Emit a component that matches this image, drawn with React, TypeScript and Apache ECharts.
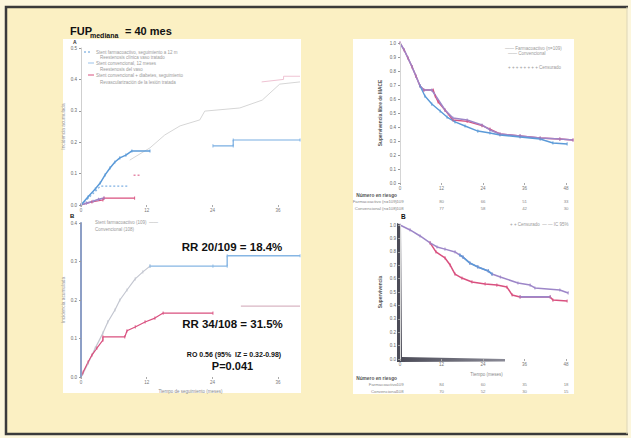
import React, { useEffect, useRef } from "react";
import * as echarts from "echarts";

type Pt = [number, number];

const FONT = "Liberation Sans, Arial, Helvetica, sans-serif";

// Axis ticks (months) and y ranges
const monthTicks = [0, 12, 24, 36, 48];
const incidenceMaxA = 0.5;
const incidenceMaxB = 0.4;

// ---- Panel A (upper left): cumulative incidence ----
const aBlueEarly: Pt[] = [[0, 0], [1.3, 0.026], [2.6, 0.051], [3.5, 0.07], [4.4, 0.096], [5.3, 0.118], [6.2, 0.137], [7.1, 0.15], [8.2, 0.159], [9.3, 0.172], [12.6, 0.172]];
const aBlueLate: Pt[] = [[24.1, 0.188], [27.8, 0.188], [27.8, 0.207], [40, 0.207]];
const aBlueDashed: Pt[] = [[0, 0], [2.5, 0.041], [3.5, 0.06], [8.6, 0.06]];
const aPink: Pt[] = [[0, 0], [2, 0.01], [4, 0.016], [4.2, 0.022], [9.8, 0.022]];
const aPinkUpper: Pt[] = [[9.6, 0.095], [10.8, 0.095]];
const aPurple: Pt[] = [[0, 0], [1, 0.006], [2.2, 0.012], [3.2, 0.018], [4.2, 0.022]];
const aGray: Pt[] = [[8.9, 0.143], [12.6, 0.182], [15.3, 0.223], [18.1, 0.252], [21.7, 0.271], [22.6, 0.299], [29, 0.309], [33.1, 0.334], [36.3, 0.385], [40, 0.392]];
const aPinkFaint: Pt[] = [[33, 0.392], [37, 0.4], [37, 0.41], [40, 0.41]];

// ---- Panel B (lower left): cumulative incidence by group ----
const bUpperGray: Pt[] = [[0, 0], [0.4, 0.01], [1.3, 0.036], [2.6, 0.075], [4.0, 0.114], [4.9, 0.143], [6.2, 0.174], [7.1, 0.2], [8.4, 0.226], [9.9, 0.255], [11.3, 0.273], [12.6, 0.288]];
const bUpperBlue: Pt[] = [[12.6, 0.288], [24.1, 0.288], [26.7, 0.288], [26.7, 0.315], [40, 0.315]];
const bPink: Pt[] = [[0, 0], [0.4, 0.013], [1.3, 0.039], [2, 0.057], [2.9, 0.075], [4, 0.096], [4, 0.104], [8, 0.104], [8.4, 0.12], [9.9, 0.13], [11.7, 0.143], [13.5, 0.153], [15, 0.166], [24.1, 0.166]];
const bPinkLate: Pt[] = [[29.2, 0.184], [40, 0.184]];

// ---- Panel C (upper right): event-free survival ----
const cPink: Pt[] = [[0, 1], [1.2, 0.95], [2.3, 0.893], [3.5, 0.829], [4.6, 0.764], [5.8, 0.693], [6.9, 0.664], [9.6, 0.664], [10.2, 0.62], [11.0, 0.58], [13.0, 0.521], [15.3, 0.45], [19.4, 0.44], [23.7, 0.41], [26.0, 0.385], [28.9, 0.35], [34.7, 0.336], [40.5, 0.321], [46.2, 0.314], [50, 0.307]];
const cPurple: Pt[] = [[0, 1], [1.2, 0.95], [2.3, 0.893], [3.5, 0.829], [4.6, 0.764], [5.8, 0.693], [6.9, 0.664], [9.2, 0.664], [13.0, 0.521], [15.3, 0.464], [19.4, 0.45], [23.7, 0.414], [26.0, 0.379], [28.9, 0.35], [34.7, 0.336], [40.5, 0.321], [46.2, 0.314], [50, 0.307]];
const cBlue: Pt[] = [[5.8, 0.693], [7.2, 0.621], [9.2, 0.564], [11.6, 0.514], [13.6, 0.471], [15.9, 0.436], [18.8, 0.407], [22.5, 0.371], [26.0, 0.357], [28.9, 0.343], [34.7, 0.329], [40.5, 0.314], [44.2, 0.286], [48.3, 0.279]];

// ---- Panel D (lower right): survival ----
const dUpper: Pt[] = [[0, 1], [2.9, 0.963], [5.8, 0.918], [8.7, 0.866], [10.7, 0.836], [13, 0.82], [15.9, 0.799], [17.3, 0.776], [18.2, 0.761], [20.2, 0.716], [22.5, 0.687], [25.5, 0.657], [26.6, 0.634], [29, 0.612], [34.1, 0.567], [37.6, 0.552], [39, 0.53], [46.2, 0.515], [48.6, 0.493]];
const dUpperBlue: Pt[] = [[17.3, 0.776], [18.2, 0.761], [20.2, 0.716], [22.5, 0.687], [25.5, 0.657], [26.6, 0.634]];
const dLower: Pt[] = [[8.7, 0.866], [10.4, 0.799], [13, 0.754], [14.5, 0.701], [15.9, 0.634], [17.9, 0.604], [20.8, 0.575], [24.6, 0.56], [28, 0.552], [30.9, 0.537], [32.4, 0.478], [34.7, 0.463], [43.4, 0.463], [44.2, 0.44], [48.3, 0.433]];
const dLowerPurple: Pt[] = [[34.7, 0.463], [43.4, 0.463]];

// Numbers at risk at 0, 12, 24, 36, 48 months
const riskTopRow1 = [109, 80, 66, 51, 33];
const riskTopRow2 = [108, 77, 58, 42, 30];
const riskBotRow1 = [109, 84, 60, 35, 18];
const riskBotRow2 = [108, 70, 52, 30, 15];

const legendA = [
  "Stent farmacoactivo, seguimiento a 12 m",
  "Reestenosis clínica vaso tratado",
  "Stent convencional, 12 meses",
  "Reestenosis del vaso",
  "Stent convencional + diabetes, seguimiento",
  "Revascularización de la lesión tratada",
];

const BLUE = "#5b9ad8";
const PINK = "#d9507f";
const PURPLE = "#9d86c8";

const grids = [
  { left: 81, top: 48, width: 219, height: 157 },
  { left: 81, top: 223, width: 219, height: 154 },
  { left: 400, top: 43, width: 173, height: 140 },
  { left: 400, top: 225, width: 173, height: 134 },
];
const xMax = [40, 40, 50, 50];

function curve(gi: number, data: Pt[], color: string, opts: any = {}) {
  return {
    type: "line",
    xAxisIndex: gi,
    yAxisIndex: gi,
    data,
    symbol: "rect",
    symbolSize: [0.9, 3.2],
    showSymbol: opts.tick !== false,
    lineStyle: { color, width: opts.width ?? 1.3, type: opts.dash ? [2, 2] : "solid", opacity: opts.opacity ?? 1 },
    itemStyle: { color, opacity: opts.opacity ?? 1 },
    silent: true,
    z: opts.z ?? 3,
  };
}

function xAx(gi: number, name = "", nameGap = 10) {
  return {
    type: "value",
    gridIndex: gi,
    min: 0,
    max: xMax[gi],
    interval: 12,
    axisLine: { show: false },
    axisTick: { show: true, length: 2, lineStyle: { color: "#aaa" } },
    axisLabel: { fontSize: 4.5, color: "#777", margin: 3, showMaxLabel: false, fontFamily: FONT },
    splitLine: { show: false },
    name,
    nameLocation: "middle",
    nameGap,
    nameTextStyle: { fontSize: 4.5, color: "#888", fontFamily: FONT },
    z: 5,
  };
}

function yAx(gi: number, max: number, interval: number, line: string, width: number, name: string, bold = false) {
  return {
    type: "value",
    gridIndex: gi,
    min: 0,
    max,
    interval,
    axisLine: { show: true, lineStyle: { color: line, width } },
    axisTick: { show: true, length: 2, lineStyle: { color: "#999" } },
    axisLabel: { fontSize: 4.5, color: "#666", margin: 4, fontFamily: FONT, formatter: (v: number) => v.toFixed(1) },
    splitLine: { show: false },
    name,
    nameLocation: "middle",
    nameGap: gi < 2 ? 15 : 17,
    nameTextStyle: { fontSize: 4.8, color: bold ? "#555" : "#999", fontWeight: bold ? "bold" : "normal", fontFamily: FONT },
    z: 5,
  };
}

function txt(x: number, y: number, text: string, size: number, opts: any = {}) {
  return {
    type: "text",
    x,
    y,
    rotation: opts.rotation ?? 0,
    z: 50,
    silent: true,
    style: {
      text,
      font: `${opts.bold ? "bold " : ""}${size}px ${FONT}`,
      fill: opts.color ?? "#111",
      align: opts.align ?? "left",
      verticalAlign: "middle",
    },
  };
}

function colX(gi: number, month: number) {
  const g = grids[gi];
  return g.left + (month / xMax[gi]) * g.width;
}

function riskTable(gi: number, yHead: number, rows: number[][], labels: string[]) {
  const out: any[] = [txt(397, yHead, "Número en riesgo", 4.8, { bold: true, color: "#555", align: "right" })];
  rows.forEach((row, r) => {
    const y = yHead + 6.5 * (r + 1);
    out.push(txt(397, y, labels[r], 4.3, { color: "#888", align: "right" }));
    row.forEach((v, i) => out.push(txt(colX(gi, monthTicks[i]), y, String(v), 4.3, { color: "#888", align: "center" })));
  });
  return out;
}

function buildOption() {
  const legendRows = [52, 57, 63, 69, 75, 82];
  const legendTexts = legendA.map((t, i) =>
    txt(i % 2 === 0 ? 96 : 100, legendRows[i], t, 4.5, { color: "#9a9a9a" })
  );
  const legendMarks = [
    { type: "line", shape: { x1: 84, y1: 52, x2: 92, y2: 52 }, style: { stroke: BLUE, lineWidth: 1, lineDash: [2, 2] }, z: 50 },
    { type: "line", shape: { x1: 88, y1: 63, x2: 94, y2: 63 }, style: { stroke: "#9cc3ea", lineWidth: 1 }, z: 50 },
    { type: "line", shape: { x1: 88, y1: 75, x2: 94, y2: 75 }, style: { stroke: PINK, lineWidth: 1 }, z: 50 },
  ];

  return {
    animation: false,
    backgroundColor: "#fcf6dc",
    grid: grids.map((g) => ({ ...g, containLabel: false })),
    xAxis: [
      xAx(0),
      xAx(1, "Tiempo de seguimiento (meses)", 12),
      xAx(2),
      xAx(3, "Tiempo (meses)", 13),
    ],
    yAxis: [
      yAx(0, incidenceMaxA, 0.1, "#cfcfcf", 1, "Incidencia acumulada"),
      yAx(1, incidenceMaxB, 0.1, "#8d9fc6", 2, "Incidencia acumulada"),
      yAx(2, 1, 0.1, "#d5d5d5", 1, "Supervivencia libre de MACE", true),
      yAx(3, 1, 0.1, "#d5d5d5", 1, "Supervivencia", true),
    ],
    series: [
      curve(0, aGray, "#d6d6d6", { width: 1, tick: false }),
      curve(0, aPinkFaint, "#efc3d3", { width: 1, tick: false }),
      curve(0, aBlueDashed, "#7fb1e3", { dash: true, width: 1.2, tick: false }),
      curve(0, aPink, PINK, { width: 1.2 }),
      curve(0, aPinkUpper, PINK, { dash: true, width: 1, tick: false }),
      curve(0, aPurple, PURPLE, { width: 1.6 }),
      curve(0, aBlueEarly, BLUE, { width: 1.5 }),
      curve(0, aBlueLate, "#79aee2", { width: 1.2 }),

      curve(1, bUpperGray, "#c3c6d0", { width: 1.2 }),
      curve(1, bUpperBlue, "#86b6e4", { width: 1.4 }),
      curve(1, bPink, PINK, { width: 1.2 }),
      curve(1, bPinkLate, "#d9b6c3", { width: 1.2, tick: false }),

      curve(2, cPink, PINK, { width: 1.4 }),
      curve(2, cPurple, PURPLE, { width: 1.6 }),
      curve(2, cBlue, BLUE, { width: 1.4 }),

      curve(3, dLower, PINK, { width: 1.5 }),
      curve(3, dLowerPurple, PURPLE, { width: 1.7 }),
      curve(3, dUpper, PURPLE, { width: 1.5 }),
      curve(3, dUpperBlue, BLUE, { width: 1.6 }),
    ],
    graphic: [
      // slide background and frame
      { type: "rect", shape: { x: 6, y: 7, width: 621, height: 427 }, style: { fill: "#fbf0c3" }, z: -20, silent: true },
      { type: "polyline", shape: { points: [[628, 7], [6, 7], [6, 434], [628, 434]] }, style: { stroke: "#3a3a3a", lineWidth: 2.5, fill: null }, z: -5, silent: true },
      { type: "line", shape: { x1: 627, y1: 7, x2: 627, y2: 434 }, style: { stroke: "#ddd6b6", lineWidth: 1 }, z: -5, silent: true },
      // white figure panels
      { type: "rect", shape: { x: 63, y: 39, width: 238, height: 354 }, style: { fill: "#ffffff" }, z: -10, silent: true },
      { type: "rect", shape: { x: 353, y: 39, width: 221, height: 355 }, style: { fill: "#ffffff" }, z: -10, silent: true },
      // heavy axis corner of the lower-right plot
      {
        type: "polygon",
        shape: { points: [[397, 223], [401, 225], [402, 357], [505, 359], [505, 361.5], [397, 362]] },
        style: { fill: new echarts.graphic.LinearGradient(0, 0, 1, 0, [{ offset: 0, color: "#4a4a56" }, { offset: 1, color: "#8a8a96" }]) },
        z: 4,
        silent: true,
      },
      // title
      txt(70, 31, "FUP", 11, { bold: true }),
      txt(90, 35.5, "mediana", 7, { bold: true }),
      txt(125, 31, "= 40 mes", 11, { bold: true }),
      // panel letters
      txt(73, 42, "A", 5, { bold: true, color: "#333" }),
      txt(70, 216, "B", 6, { bold: true }),
      txt(401, 216, "B", 6.5, { bold: true }),
      // legends
      ...legendMarks,
      ...legendTexts,
      txt(95, 222, "Stent farmacoactivo (109)  ——", 4.5, { color: "#999" }),
      txt(95, 229, "Convencional (108)", 4.5, { color: "#999" }),
      txt(505, 48, "—— Farmacoactivo (n=109)", 4.5, { color: "#999" }),
      txt(508, 53.5, "—— Convencional", 4.5, { color: "#999" }),
      txt(508, 67, "+ + + + + + + + Censurado", 4.5, { color: "#999" }),
      txt(510, 224, "+ + Censurado  — — IC 95%", 4.5, { color: "#999" }),
      // annotations
      txt(232, 247, "RR 20/109 = 18.4%", 11.5, { bold: true, align: "center" }),
      txt(232.5, 324, "RR 34/108 = 31.5%", 11.5, { bold: true, align: "center" }),
      txt(234, 354, "RO 0.56 (95%  IZ = 0.32-0.98)", 7, { bold: true, align: "center" }),
      txt(232.5, 365.5, "P=0.041", 11, { bold: true, align: "center" }),
      // numbers at risk
      ...riskTable(2, 195, [riskTopRow1, riskTopRow2], ["Farmacoactivo (n=109)", "Convencional (n=108)"]),
      ...riskTable(3, 378, [riskBotRow1, riskBotRow2], ["Farmacoactivo", "Convencional"]),
    ],
  };
}

export default function App() {
  const ref = useRef<HTMLDivElement>(null);
  useEffect(() => {
    if (!ref.current) return;
    const chart = echarts.init(ref.current, null, { renderer: "svg" });
    chart.setOption(buildOption() as any);
    return () => chart.dispose();
  }, []);
  return <div ref={ref} style={{ position: "absolute", left: 0, top: 0, width: 631, height: 438 }} />;
}
